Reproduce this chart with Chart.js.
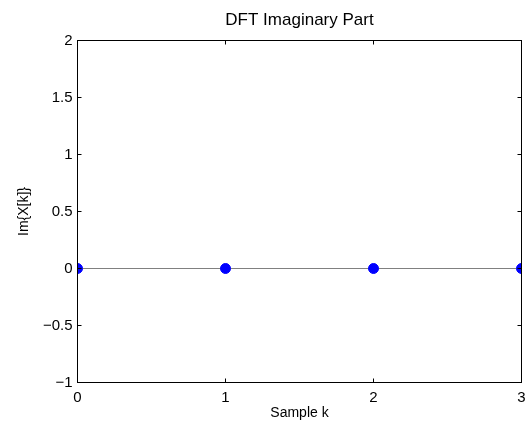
<!DOCTYPE html>
<html>
<head>
<meta charset="utf-8">
<script src="https://cdn.jsdelivr.net/npm/chart.js@4.4.1/dist/chart.umd.min.js"></script>
<style>
  html, body { margin: 0; padding: 0; background: #ffffff; }
  #wrap { width: 529px; height: 428px; }
</style>
</head>
<body>
<div id="wrap"><canvas id="dftImag" width="529" height="428"></canvas></div>
<script>
const sampleK = [0, 1, 2, 3];
const imagValues = [0, 0, 0, 0];
const baselineX = [0, 3];
const baselineY = [0, 0];
const xTickValues = [0, 1, 2, 3];
const yTickValues = [-1, -0.5, 0, 0.5, 1, 1.5, 2];

const FONT = "\"Liberation Sans\", Arial, Helvetica, sans-serif";
Chart.defaults.font.family = FONT;
Chart.defaults.color = "#000000";

const fmtTick = (v) => String(v).replace("-", "\u2212");

// MATLAB style: full box with inward ticks on all four sides
const matlabBox = {
  id: "matlabBox",
  afterDraw(chart) {
    const { ctx, chartArea: a, scales } = chart;
    const len = 4;
    const L = Math.floor(a.left) + 0.5;
    const R = Math.floor(a.right) + 0.5;
    const T = Math.floor(a.top) + 0.5;
    const B = Math.floor(a.bottom) + 0.5;
    ctx.save();
    ctx.strokeStyle = "#000000";
    ctx.lineWidth = 1;
    ctx.beginPath();
    scales.x.ticks.forEach((t) => {
      const px = Math.floor(scales.x.getPixelForValue(t.value)) + 0.5;
      ctx.moveTo(px, B);
      ctx.lineTo(px, B - len);
      ctx.moveTo(px, T);
      ctx.lineTo(px, T + len);
    });
    scales.y.ticks.forEach((t) => {
      const py = Math.floor(scales.y.getPixelForValue(t.value)) + 0.5;
      ctx.moveTo(L, py);
      ctx.lineTo(L + len, py);
      ctx.moveTo(R, py);
      ctx.lineTo(R - len, py);
    });
    ctx.stroke();
    ctx.strokeRect(L, T, R - L, B - T);
    ctx.restore();
  }
};

new Chart(document.getElementById("dftImag"), {
  type: "scatter",
  data: {
    datasets: [
      {
        type: "line",
        label: "baseline",
        data: baselineX.map((x, i) => ({ x, y: baselineY[i] })),
        borderColor: "#808080",
        borderWidth: 1,
        pointRadius: 0,
        order: 2
      },
      {
        label: "Im{X[k]}",
        data: sampleK.map((k, i) => ({ x: k, y: imagValues[i] })),
        backgroundColor: "#0000ff",
        borderColor: "#0000ff",
        pointRadius: 5,
        pointHoverRadius: 5,
        order: 1
      }
    ]
  },
  options: {
    responsive: false,
    animation: false,
    events: [],
    layout: { padding: { left: 0, right: 7.5, top: 0, bottom: 0 } },
    plugins: {
      legend: { display: false },
      tooltip: { enabled: false },
      title: { display: false }
    },
    scales: {
      // top axis only carries the plot title, centred over the axes like MATLAB
      top: {
        type: "linear",
        position: "top",
        display: true,
        min: 0,
        max: 3,
        afterFit: (s) => {
          s.height = 40.5;
          s.paddingLeft = 0;
          s.paddingRight = 0;
        },
        grid: { display: false, drawTicks: false },
        border: { display: false },
        ticks: { display: false },
        title: {
          display: true,
          text: "DFT Imaginary Part",
          color: "#000000",
          font: { size: 17 },
          padding: { top: 9.9, bottom: 0 }
        }
      },
      x: {
        type: "linear",
        position: "bottom",
        min: 0,
        max: 3,
        afterFit: (s) => {
          s.height = 45.5;
          s.paddingLeft = 0;
          s.paddingRight = 0;
        },
        afterBuildTicks: (s) => { s.ticks = xTickValues.map((v) => ({ value: v })); },
        grid: { display: false, drawTicks: false },
        border: { display: false },
        ticks: { padding: 6.5, font: { size: 15 }, color: "#000000", callback: fmtTick, maxRotation: 0 },
        title: { display: true, text: "Sample k", font: { size: 14 }, color: "#000000", padding: { top: 0, bottom: 6.7 } }
      },
      y: {
        type: "linear",
        min: -1,
        max: 2,
        afterFit: (s) => {
          s.width = 77.5;
          s.paddingTop = 0;
          s.paddingBottom = 0;
        },
        afterBuildTicks: (s) => { s.ticks = yTickValues.map((v) => ({ value: v })); },
        grid: { display: false, drawTicks: false },
        border: { display: false },
        ticks: { padding: 5, font: { size: 15 }, color: "#000000", callback: fmtTick },
        title: { display: true, text: "Im{X[k]}", font: { size: 14 }, color: "#000000", padding: { top: 15.7, bottom: 0 } }
      }
    }
  },
  plugins: [matlabBox]
});
</script>
</body>
</html>
